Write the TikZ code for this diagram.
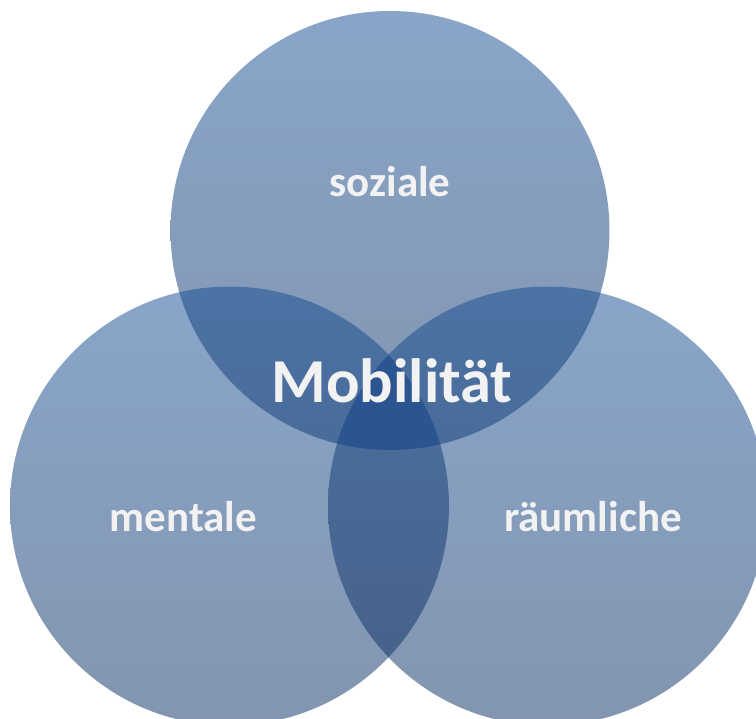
\documentclass[tikz,border=0pt]{standalone}
\usepackage{fontspec}
\setmainfont{Carlito}
\definecolor{singtop}{HTML}{88A5C9}
\definecolor{singbot}{HTML}{8395AF}
\definecolor{dbltop}{HTML}{4B73A4}
\definecolor{dblbot}{HTML}{465F86}
\definecolor{tripc}{HTML}{2A5591}
\definecolor{txtc}{HTML}{F2F2F2}
\begin{document}
\begin{tikzpicture}[x=1pt,y=-1pt,
  single/.style={top color=singtop,bottom color=singbot},
  double/.style={top color=dbltop,bottom color=dblbot},
  lbl/.style={text=txtc,font=\bfseries\fontsize{43}{43}\selectfont,anchor=base,inner sep=0pt},
  bigl/.style={text=txtc,font=\bfseries\fontsize{62.5}{62.5}\selectfont,anchor=base,inner sep=0pt}]
\useasboundingbox (0,0) rectangle (756,719);
\clip (0,0) rectangle (756,719);
\def\R{219.5pt}
\coordinate (T) at (390,230.5);
\coordinate (L) at (229.5,506);
\coordinate (Rc) at (547.5,506);
% single circles
\shade[single] (T) circle[radius=\R];
\shade[single] (L) circle[radius=\R];
\shade[single] (Rc) circle[radius=\R];
% pairwise overlaps
\begin{scope}
  \clip (T) circle[radius=\R];
  \shade[double] (L) circle[radius=\R];
\end{scope}
\begin{scope}
  \clip (T) circle[radius=\R];
  \shade[double] (Rc) circle[radius=\R];
\end{scope}
\begin{scope}
  \clip (L) circle[radius=\R];
  \shade[double] (Rc) circle[radius=\R];
\end{scope}
% triple overlap
\begin{scope}
  \clip (T) circle[radius=\R];
  \clip (L) circle[radius=\R];
  \fill[tripc] (Rc) circle[radius=\R];
\end{scope}
% labels
\node[lbl] (soz) at (390,197) {soziale};
\node[lbl] (men) at (183.5,532) {mentale};
\node[lbl] (rau) at (593,532) {räumliche};
\node[bigl] (mob) at (392,403) {Mobilität};
\end{tikzpicture}
\end{document}
